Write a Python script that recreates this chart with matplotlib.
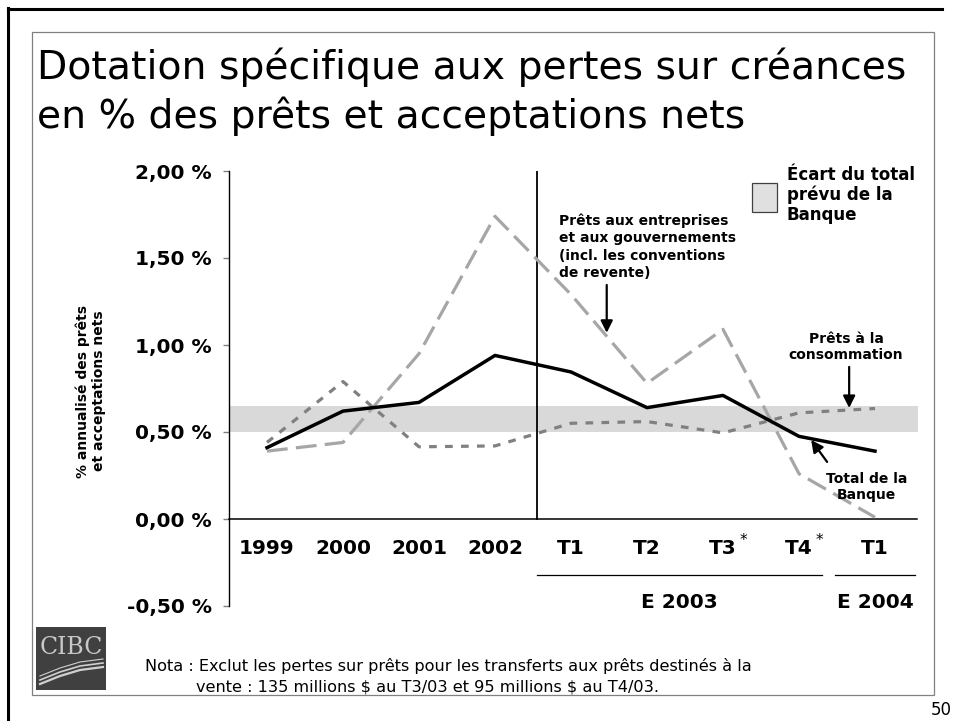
import matplotlib
matplotlib.use("Agg")
import matplotlib.pyplot as plt
from matplotlib.patches import Rectangle
from matplotlib.lines import Line2D

plt.rcParams["font.family"] = ["DejaVu Sans"]

W, H = 954, 721

categories = ["1999", "2000", "2001", "2002", "T1", "T2", "T3", "T4", "T1"]
starred = [False, False, False, False, False, False, True, True, False]
total_banque = [0.41, 0.62, 0.67, 0.94, 0.845, 0.64, 0.71, 0.475, 0.39]
entreprises = [0.39, 0.44, 0.95, 1.74, 1.29, 0.78, 1.09, 0.26, 0.01]
consommation = [0.44, 0.79, 0.415, 0.42, 0.55, 0.56, 0.495, 0.61, 0.635]
band_low, band_high = 0.50, 0.65
y_ticks = [-0.5, 0.0, 0.5, 1.0, 1.5, 2.0]
y_tick_labels = ["-0,50 %", "0,00 %", "0,50 %", "1,00 %", "1,50 %", "2,00 %"]
group_labels = ["E 2003", "E 2004"]
group_spans = [(3.55, 7.3), (7.47, 8.53)]
separator_x = 3.55


def fx(px):
    return px / W


def fy(py):
    return 1 - py / H


fig = plt.figure(figsize=(W / 100, H / 100), dpi=100)

# slide frame
fig.add_artist(Line2D([fx(8), fx(8)], [fy(8), fy(721)], color="black", lw=2.2))
fig.add_artist(Line2D([fx(8), fx(942)], [fy(8.5), fy(8.5)], color="black", lw=2.2))
fig.add_artist(Rectangle((fx(32), fy(695)), fx(934) - fx(32), fy(32) - fy(695),
                         fill=False, edgecolor="#808080", lw=0.9))

fig.text(fx(37), fy(79), "Dotation spécifique aux pertes sur créances",
         fontsize=28.4, va="baseline", ha="left")
fig.text(fx(37), fy(128), "en % des prêts et acceptations nets",
         fontsize=28.4, va="baseline", ha="left")

ax = fig.add_axes([fx(229), fy(606), fx(913) - fx(229), fy(171) - fy(606)])
x = list(range(len(categories)))
ax.set_xlim(-0.5, 8.5)
ax.set_ylim(-0.5, 2.0)
ax.patch.set_alpha(0)
for side in ["top", "right", "bottom"]:
    ax.spines[side].set_visible(False)
ax.spines["left"].set_linewidth(1.0)
ax.set_xticks([])
ax.set_yticks(y_ticks)
ax.set_yticklabels(y_tick_labels, fontweight="bold")
ax.tick_params(axis="y", direction="out", length=4.5, width=1, color="#808080",
               pad=8, labelsize=14.5)

ax.fill_between([-0.5, 8.57], band_low, band_high, color="#d9d9d9", lw=0,
                clip_on=False, zorder=1)
ax.plot([-0.5, 8.55], [0, 0], color="black", lw=1.1, clip_on=False, zorder=2)
ax.plot([separator_x, separator_x], [0, 2.0], color="black", lw=1.3, zorder=2)

ax.plot(x, entreprises, color="#a6a6a6", lw=2.3, dashes=(6.5, 2.6), zorder=3,
        clip_on=False)
ax.plot(x, consommation, color="#808080", lw=2.3, dashes=(2.4, 2.6), zorder=3,
        clip_on=False)
ax.plot(x, total_banque, color="black", lw=2.5, zorder=4, clip_on=False)

for i, (lab, star) in enumerate(zip(categories, starred)):
    ax.text(i, -0.17, lab, ha="center", va="center", fontsize=14.5,
            fontweight="bold")
    if star:
        ax.annotate("*", xy=(i, -0.17), xytext=(12, 6), textcoords="offset points",
                    ha="left", va="center", fontsize=11)

for lab, (x0, x1) in zip(group_labels, group_spans):
    ax.plot([x0, x1], [-0.32, -0.32], color="black", lw=0.9, clip_on=False)
    ax.text((x0 + x1) / 2, -0.48, lab, ha="center", va="center", fontsize=14.5,
            fontweight="bold")

arrow = dict(arrowstyle="-|>", color="black", lw=1.6, mutation_scale=18,
             shrinkA=0, shrinkB=0)
ax.text(3.84, 1.755, "Prêts aux entreprises\net aux gouvernements\n"
        "(incl. les conventions\nde revente)", ha="left", va="top", fontsize=10,
        fontweight="bold", linespacing=1.3)
ax.annotate("", xy=(4.47, 1.07), xytext=(4.47, 1.345), arrowprops=arrow)

ax.text(7.62, 1.075, "Prêts à la\nconsommation", ha="center", va="top",
        fontsize=10, fontweight="bold", linespacing=1.2)
ax.annotate("", xy=(7.66, 0.638), xytext=(7.66, 0.874), arrowprops=arrow)

ax.text(7.89, 0.27, "Total de la\nBanque", ha="center", va="top",
        fontsize=10, fontweight="bold", linespacing=1.2)
ax.annotate("", xy=(7.16, 0.454), xytext=(7.37, 0.328), arrowprops=arrow)

# legend
fig.add_artist(Rectangle((fx(752), fy(212)), fx(777) - fx(752), fy(183) - fy(212),
                         facecolor="#e0e0e0", edgecolor="#404040", lw=0.9))
fig.text(fx(787), fy(166), "Écart du total\nprévu de la\nBanque", ha="left",
         va="top", fontsize=12, fontweight="bold", linespacing=1.12)

fig.text(fx(91), fy(391), "% annualisé des prêts\net acceptations nets",
         rotation=90, ha="center", va="center", fontsize=10, fontweight="bold",
         multialignment="center")

# logo
fig.add_artist(Rectangle((fx(36), fy(690)), fx(106) - fx(36), fy(627) - fy(690),
                         facecolor="#404040", edgecolor="none"))
fig.text(fx(71), fy(648), "CIBC", ha="center", va="center", fontsize=17,
         family="DejaVu Serif", color="#c8c8c8")
for k, off in enumerate([0, 4, 8]):
    fig.add_artist(Line2D([fx(40), fx(60), fx(80), fx(103)],
                          [fy(684 - off), fy(676 - off), fy(670 - off), fy(667 - off)],
                          color="#d0d0d0", lw=1.6 - 0.4 * k))

fig.text(fx(145), fy(671), "Nota : Exclut les pertes sur prêts pour les transferts "
         "aux prêts destinés à la", ha="left", va="baseline", fontsize=11.6)
fig.text(fx(196), fy(691), r"vente : 135 millions \$ au T3/03 et 95 millions \$ au T4/03.",
         ha="left", va="baseline", fontsize=11.6)

fig.text(fx(952), fy(715), "50", ha="right", va="baseline", fontsize=12)

fig.savefig("out.png", dpi=100)
